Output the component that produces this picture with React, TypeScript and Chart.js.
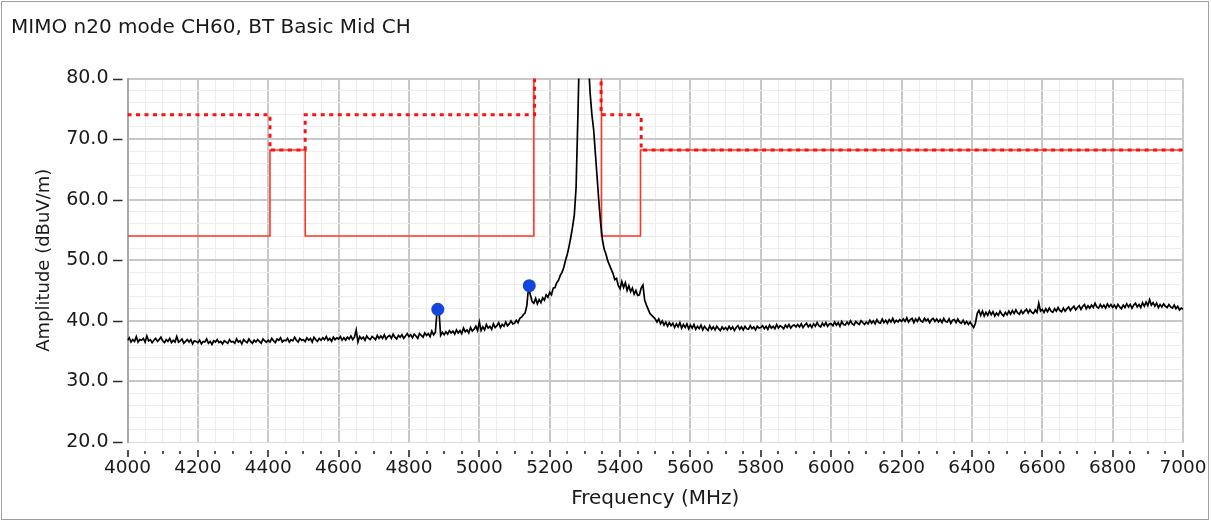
import React, { useEffect, useRef } from 'react';
import { Chart, registerables } from 'chart.js';

Chart.register(...registerables);

const TITLE = 'MIMO n20 mode CH60, BT Basic Mid CH';
const X_TITLE = 'Frequency (MHz)';
const Y_TITLE = 'Amplitude (dBuV/m)';

const X_MIN = 4000;
const X_MAX = 7000;
const X_MAJOR = 200;
const X_MINOR = 50;
const Y_MIN = 20;
const Y_MAX = 80;
const Y_MAJOR = 10;
const Y_MINOR = 2;

// Measured trace: 4000 MHz .. 7000 MHz, one reading every 5 MHz
const TRACE_START_MHZ = 4000;
const TRACE_STEP_MHZ = 5;
const TRACE_DBUV = [
  36.8, 37.2, 36.5, 36.9, 36.6, 37.4, 36.5, 36.9, 36.8, 37.1, 36.5, 37.5, 36.7, 36.9, 36.4, 36.8, 37.1, 36.6, 36.9, 37.3,
  36.7, 36.4, 36.9, 36.6, 37.1, 36.4, 36.8, 36.5, 37.4, 36.5, 36.7, 37.0, 36.3, 36.6, 36.9, 36.5, 36.9, 36.2, 36.7, 36.6,
  36.4, 36.8, 36.2, 36.6, 36.5, 37.0, 36.3, 36.6, 36.1, 36.7, 36.5, 36.9, 36.4, 36.6, 36.2, 36.7, 36.5, 36.3, 36.9, 36.5,
  36.6, 36.3, 37.0, 36.5, 36.7, 36.2, 36.9, 36.6, 36.4, 37.0, 36.6, 36.3, 36.8, 36.5, 36.9, 36.6, 36.3, 37.0, 36.7, 36.5,
  36.8, 36.5, 37.1, 36.7, 36.4, 37.0, 36.8, 37.2, 36.5, 36.8, 36.7, 37.1, 36.5, 36.9, 36.7, 37.3, 36.8, 36.5, 37.1, 36.8,
  36.9, 36.6, 37.2, 36.8, 37.1, 36.5, 37.3, 36.9, 36.6, 37.1, 36.8, 37.2, 36.9, 37.4, 36.8, 37.1, 36.6, 37.3, 36.9, 37.2,
  37.0, 37.4, 36.8, 37.2, 36.8, 37.3, 37.0, 37.5, 36.9, 37.3, 38.5, 36.5, 37.4, 37.0, 37.3, 36.8, 37.5, 37.1, 36.9, 37.4,
  37.2, 36.9, 37.6, 37.1, 37.5, 37.1, 37.7, 37.0, 37.4, 37.6, 37.1, 37.8, 37.3, 37.0, 37.6, 37.3, 37.7, 37.1, 37.5, 37.9,
  37.4, 37.7, 37.2, 37.8, 37.5, 37.1, 37.9, 37.6, 37.3, 38.0, 37.6, 37.9, 37.4, 38.3, 37.7, 38.1, 41.7, 41.9, 37.6, 38.1,
  37.7, 38.2, 37.8, 38.4, 38.0, 38.3, 37.8, 38.5, 38.0, 38.4, 37.9, 38.8, 38.2, 38.5, 38.0, 38.9, 38.3, 38.6, 39.1, 38.4,
  39.8, 38.4, 39.0, 38.5, 39.4, 38.8, 39.1, 38.6, 39.5, 38.9, 39.2, 39.7, 38.9, 39.4, 39.1, 39.8, 39.2, 39.5, 40.0, 39.5,
  39.6, 40.1, 39.7, 40.4, 40.6, 41.0, 41.3, 42.5, 45.6, 44.3, 43.2, 42.9, 43.7, 42.8, 43.5, 43.0, 43.8, 43.4, 44.3, 43.9,
  44.7, 44.3, 45.4, 45.5, 46.3, 46.7, 47.5, 48.0, 48.8, 50.0, 51.0, 52.3, 53.8, 55.5, 57.5, 62.0, 73.5, 86.0, 95.0, 100.0,
  98.0, 91.0, 83.0, 77.5, 74.0, 71.5, 67.5, 63.5, 59.5, 56.0, 53.3, 51.8, 51.0, 49.9, 49.2, 48.5, 47.8, 46.8, 47.0, 45.8,
  45.3, 46.5, 45.5, 46.3, 45.0, 45.8, 44.8, 45.4, 44.4, 45.0, 44.2, 44.3, 45.4, 45.9, 43.4, 42.6, 41.9, 41.2, 40.9, 40.6,
  40.3, 39.8, 40.3, 39.5, 40.0, 39.3, 39.8, 39.1, 39.7, 39.2, 39.6, 38.9, 39.5, 39.0, 39.7, 38.8, 39.4, 38.9, 39.5, 38.7,
  39.3, 38.8, 39.4, 38.6, 39.1, 38.7, 39.3, 38.5, 39.1, 38.7, 38.4, 39.2, 38.6, 39.0, 38.5, 39.1, 38.7, 38.4, 39.0, 38.6,
  38.9, 38.5, 39.1, 38.6, 39.0, 38.4, 38.9, 39.2, 38.6, 39.0, 38.5, 39.1, 38.7, 38.6, 39.2, 38.7, 39.0, 38.5, 39.1, 38.8,
  38.9, 39.2, 38.7, 39.1, 38.6, 39.3, 38.8, 39.1, 38.7, 39.4, 38.8, 39.2, 39.0, 38.7, 39.3, 38.9, 39.4, 38.8, 39.2, 39.3,
  39.0, 39.4, 39.0, 39.5, 38.9, 39.3, 39.6, 39.0, 39.4, 38.9, 39.5, 39.1, 39.7, 39.2, 39.0, 39.6, 39.2, 39.7, 39.1, 39.5,
  39.5, 39.2, 39.8, 39.3, 39.7, 39.1, 39.9, 39.4, 39.3, 39.8, 39.4, 40.0, 39.5, 39.3, 39.9, 39.6, 39.4, 40.0, 39.7, 39.4,
  39.8, 39.5, 40.1, 39.6, 40.0, 39.5, 40.2, 39.7, 39.6, 40.3, 39.7, 40.1, 39.6, 40.2, 39.8, 40.4, 39.7, 40.1, 39.8, 40.2,
  39.9, 40.3, 39.9, 40.5, 39.8, 40.2, 40.4, 39.7, 40.3, 39.9, 40.5, 40.0, 39.8, 40.4, 40.0, 40.3, 39.7, 40.2, 40.4, 39.9,
  40.3, 39.8, 40.2, 39.7, 40.4, 39.9, 39.8, 40.3, 39.6, 40.1, 40.2, 39.7, 40.3, 39.8, 39.6, 40.1, 39.5, 39.9, 39.4, 39.8,
  39.3, 38.9, 39.6, 41.2, 41.7, 40.9, 41.6, 40.8, 41.4, 40.9, 41.6, 41.0, 41.5, 40.8, 41.3, 40.9, 41.6, 41.1, 40.8, 41.4,
  41.0, 41.6, 41.1, 41.7, 41.2, 41.8, 41.3, 41.1, 41.7, 41.2, 41.6, 41.9, 41.3, 41.8, 41.4, 41.2, 41.8, 41.4, 42.9, 41.6,
  41.9, 41.4, 42.0, 41.5, 42.1, 41.6, 41.4, 42.0, 41.6, 42.2, 41.7, 41.5, 42.1, 41.6, 42.0, 42.3, 41.7, 42.1, 42.4, 41.8,
  42.2, 42.5, 41.9, 42.4, 42.7, 42.0, 42.5, 42.1, 42.6, 42.2, 42.9, 42.3, 42.1, 42.7, 42.2, 42.6, 42.1, 42.8, 42.3, 42.7,
  42.2, 42.6, 42.1, 42.7, 42.3, 42.0, 42.6, 42.2, 42.8, 42.3, 42.7, 42.1, 42.6, 42.9, 42.3, 42.7, 42.2, 43.0, 42.4, 43.1,
  42.5, 43.5, 42.6, 43.0, 42.4, 42.9, 42.2, 42.7, 42.3, 42.8, 42.4, 42.2, 42.7, 42.3, 42.1, 42.6, 42.0, 42.4, 41.8, 42.1,
  41.9,
];

// Peak limit (dotted) and average limit (solid)
const PEAK_LIMIT_MHZ = [4000, 4405, 4405, 4505, 4505, 5157, 5157, 5346, 5346, 5460, 5460, 7000];
const PEAK_LIMIT_DBUV = [74, 74, 68.2, 68.2, 74, 74, 95, 95, 74, 74, 68.2, 68.2];
const AVG_LIMIT_MHZ = [4000, 4405, 4405, 4505, 4505, 5155, 5155, 5347, 5347, 5458, 5458, 7000];
const AVG_LIMIT_DBUV = [54, 54, 68.2, 68.2, 54, 54, 95, 95, 54, 54, 68.2, 68.2];

// Markers
const MARKER_MHZ = [4882, 5142];
const MARKER_DBUV = [41.9, 45.8];

const FONT = 'DejaVu Sans';
const TEXT_COLOR = '#1a1a1a';

const toPoints = (xs: number[], ys: number[]) => ys.map((y, i) => ({ x: xs[i], y }));

const tickMarks = {
  id: 'tickMarks',
  afterDraw(chart: any) {
    const { ctx, chartArea, scales } = chart;
    const xs = scales.x;
    const ys = scales.y;
    ctx.save();
    ctx.strokeStyle = '#2a2a2a';
    ctx.lineWidth = 1.6;
    ctx.beginPath();
    for (let v = X_MIN; v <= X_MAX; v += X_MINOR) {
      const px = Math.round(xs.getPixelForValue(v));
      const major = v % X_MAJOR === 0;
      ctx.moveTo(px, chartArea.bottom + (major ? 8 : 9));
      ctx.lineTo(px, chartArea.bottom + (major ? 15 : 12));
    }
    for (let v = Y_MIN; v <= Y_MAX; v += Y_MAJOR) {
      const py = Math.round(ys.getPixelForValue(v)) + 0.5;
      ctx.moveTo(chartArea.left - 14.5, py);
      ctx.lineTo(chartArea.left - 5, py);
    }
    ctx.stroke();
    ctx.restore();
  },
};

const isMult = (v: number, m: number) => Math.abs(v / m - Math.round(v / m)) < 1e-6;

export default function App() {
  const ref = useRef<HTMLCanvasElement>(null);

  useEffect(() => {
    const prev = document.body.style.margin;
    document.body.style.margin = '0';
    const tracePts = TRACE_DBUV.map((y, i) => ({ x: TRACE_START_MHZ + i * TRACE_STEP_MHZ, y }));
    const chart = new Chart(ref.current as HTMLCanvasElement, {
      type: 'scatter',
      data: {
        datasets: [
          {
            label: 'Markers',
            data: toPoints(MARKER_MHZ, MARKER_DBUV),
            showLine: false,
            pointRadius: 6.5,
            pointBackgroundColor: '#1246dc',
            pointBorderColor: '#1246dc',
            pointBorderWidth: 0,
            order: 0,
          },
          {
            label: 'Trace',
            data: tracePts,
            showLine: true,
            borderColor: '#000000',
            borderWidth: 1.7,
            pointRadius: 0,
            order: 1,
          },
          {
            label: 'Peak limit',
            data: toPoints(PEAK_LIMIT_MHZ, PEAK_LIMIT_DBUV),
            showLine: true,
            borderColor: '#ff1010',
            borderWidth: 3,
            borderDash: [4, 4.5],
            pointRadius: 0,
            order: 2,
          },
          {
            label: 'Average limit',
            data: toPoints(AVG_LIMIT_MHZ, AVG_LIMIT_DBUV),
            showLine: true,
            borderColor: '#ff3524',
            borderWidth: 1.6,
            pointRadius: 0,
            order: 3,
          },
        ],
      },
      options: {
        animation: false,
        responsive: false,
        devicePixelRatio: 1,
        layout: { padding: { left: 11, right: 28, top: 0, bottom: 0 } },
        plugins: {
          legend: { display: false },
          tooltip: { enabled: false },
          title: {
            display: true,
            text: TITLE,
            align: 'start',
            color: TEXT_COLOR,
            font: { family: FONT, size: 20, weight: 'normal', lineHeight: 1.2 },
            padding: { top: 16, bottom: 38.5 },
          },
        },
        scales: {
          x: {
            type: 'linear',
            min: X_MIN,
            max: X_MAX,
            afterFit: (s: any) => {
              s.height = 79;
            },
            ticks: {
              stepSize: X_MINOR,
              autoSkip: false,
              maxRotation: 0,
              minRotation: 0,
              padding: 4,
              color: TEXT_COLOR,
              font: { family: FONT, size: 18.5, lineHeight: '44px' },
              callback: (v: any) => (isMult(Number(v), X_MAJOR) ? String(Math.round(Number(v))) : ''),
            },
            grid: {
              drawTicks: false,
              color: (c: any) => (isMult(c.tick.value, X_MAJOR) ? '#c8c8c8' : '#ececec'),
              lineWidth: (c: any) => (isMult(c.tick.value, X_MAJOR) ? 2 : 1),
            },
            border: { display: true, color: '#dcdcdc', width: 1 },
            title: {
              display: true,
              text: X_TITLE,
              color: TEXT_COLOR,
              font: { family: FONT, size: 20, lineHeight: 1.2 },
              padding: { top: 0, bottom: 10 },
            },
          },
          y: {
            type: 'linear',
            min: Y_MIN,
            max: Y_MAX,
            afterFit: (s: any) => {
              s.width = 116.5;
            },
            ticks: {
              stepSize: Y_MINOR,
              autoSkip: false,
              padding: 19,
              color: TEXT_COLOR,
              font: { family: FONT, size: 19 },
              callback: (v: any) => (isMult(Number(v), Y_MAJOR) ? Number(v).toFixed(1) : ''),
            },
            grid: {
              drawTicks: false,
              color: (c: any) =>
                c.tick.value === Y_MIN ? '#dcdcdc' : isMult(c.tick.value, Y_MAJOR) ? '#c8c8c8' : '#ececec',
              lineWidth: (c: any) => (isMult(c.tick.value, Y_MAJOR) && c.tick.value !== Y_MIN ? 2 : 1),
            },
            border: { display: true, color: '#a8a8a8', width: 2 },
            title: {
              display: true,
              text: Y_TITLE,
              color: TEXT_COLOR,
              font: { family: FONT, size: 18, lineHeight: 1.2 },
              padding: { top: 23, bottom: 0 },
            },
          },
        },
      },
      plugins: [tickMarks],
    } as any);
    return () => {
      chart.destroy();
      document.body.style.margin = prev;
    };
  }, []);

  return (
    <div style={{ position: 'fixed', left: 0, top: 0, width: 1211, height: 521, background: '#ffffff' }}>
      <canvas ref={ref} width={1211} height={521} style={{ display: 'block', width: 1211, height: 521 }} />
      <div
        style={{
          position: 'absolute',
          left: 1,
          top: 1,
          width: 1206,
          height: 517,
          border: '1px solid #a0a0a0',
          pointerEvents: 'none',
        }}
      />
    </div>
  );
}
